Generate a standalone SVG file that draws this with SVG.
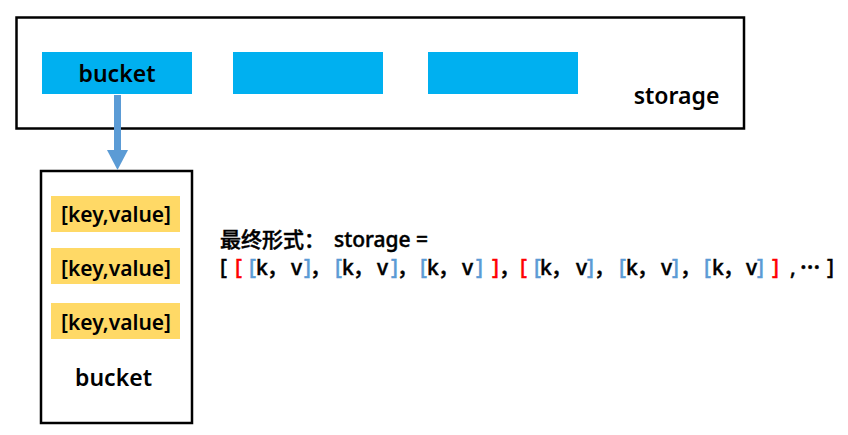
<svg xmlns="http://www.w3.org/2000/svg" width="848" height="435" viewBox="0 0 848 435">
<style>
.box{fill:#fff;stroke:#000;stroke-width:2.5}
.cell{fill:#00B0F0}
.kv{fill:#FFD966}
.lbl{font-family:"Noto Sans","Liberation Sans",sans-serif;font-weight:600;fill:#000;text-anchor:middle}
.f{font-family:"Noto Sans","Noto Sans CJK SC",sans-serif;font-size:21px;font-weight:500;fill:#000;stroke:#000;stroke-width:0.45}
.cjk{font-family:"Noto Sans CJK SC",sans-serif}
.r{fill:#FF0000;stroke:#FF0000}
.b{fill:#5B9BD5;stroke:#5B9BD5}
</style>
<rect width="848" height="435" fill="#fff"/>
<g id="storage">
<rect class="box" x="16.5" y="17.5" width="727.5" height="111"/>
<text class="lbl" x="676.5" y="104" font-size="23">storage</text>
</g>
<g id="bucket-1">
<rect class="cell" x="42" y="52" width="150" height="42"/>
<text class="lbl" x="117" y="82" font-size="23">bucket</text>
</g>
<g id="bucket-2">
<rect class="cell" x="233" y="52" width="150" height="42"/>
</g>
<g id="bucket-3">
<rect class="cell" x="428" y="52" width="150" height="42"/>
</g>
<g id="bucket-detail">
<rect class="box" x="41" y="171" width="151" height="252"/>
<rect class="kv" x="51" y="196" width="129" height="36"/>
<rect class="kv" x="51" y="248" width="129" height="36"/>
<rect class="kv" x="51" y="303" width="129" height="36"/>
<text class="lbl" x="116" y="222" font-size="21">[key,value]</text>
<text class="lbl" x="116" y="276" font-size="21">[key,value]</text>
<text class="lbl" x="116" y="330" font-size="21">[key,value]</text>
<text class="lbl" x="113.5" y="386" font-size="23">bucket</text>
</g>
<g id="connectors">
<rect x="114" y="95" width="7" height="56" fill="#5B9BD5"/>
<polygon points="107,150 128,150 117.5,170" fill="#5B9BD5"/>
</g>
<g id="formula">
<text class="f" y="247"><tspan class="cjk" x="220">最终形式：</tspan><tspan x="334">storage =</tspan></text>
<text class="f" y="275"><tspan x="220">[</tspan><tspan class="r" x="235">[</tspan><tspan class="b" x="249">[</tspan><tspan x="256">k</tspan><tspan class="cjk" x="267">，</tspan><tspan x="291">v</tspan><tspan class="b" x="304">]</tspan><tspan class="cjk" x="310">，</tspan><tspan class="b" x="335">[</tspan><tspan x="342">k</tspan><tspan class="cjk" x="353">，</tspan><tspan x="377">v</tspan><tspan class="b" x="391">]</tspan><tspan class="cjk" x="397">，</tspan><tspan class="b" x="420">[</tspan><tspan x="427">k</tspan><tspan class="cjk" x="438">，</tspan><tspan x="462">v</tspan><tspan class="b" x="476">]</tspan><tspan class="r" x="492">]</tspan><tspan class="cjk" x="499">，</tspan><tspan class="r" x="520">[</tspan><tspan class="b" x="534">[</tspan><tspan x="540">k</tspan><tspan class="cjk" x="551">，</tspan><tspan x="576">v</tspan><tspan class="b" x="587">]</tspan><tspan class="cjk" x="594">，</tspan><tspan class="b" x="619">[</tspan><tspan x="626">k</tspan><tspan class="cjk" x="637">，</tspan><tspan x="661">v</tspan><tspan class="b" x="672">]</tspan><tspan class="cjk" x="680">，</tspan><tspan class="b" x="704">[</tspan><tspan x="712">k</tspan><tspan class="cjk" x="723">，</tspan><tspan x="746">v</tspan><tspan class="b" x="757">]</tspan><tspan class="r" x="772">]</tspan><tspan x="790">,</tspan><tspan x="800" y="269" font-size="25">…</tspan><tspan x="827" y="275">]</tspan></text>
</g>
</svg>
